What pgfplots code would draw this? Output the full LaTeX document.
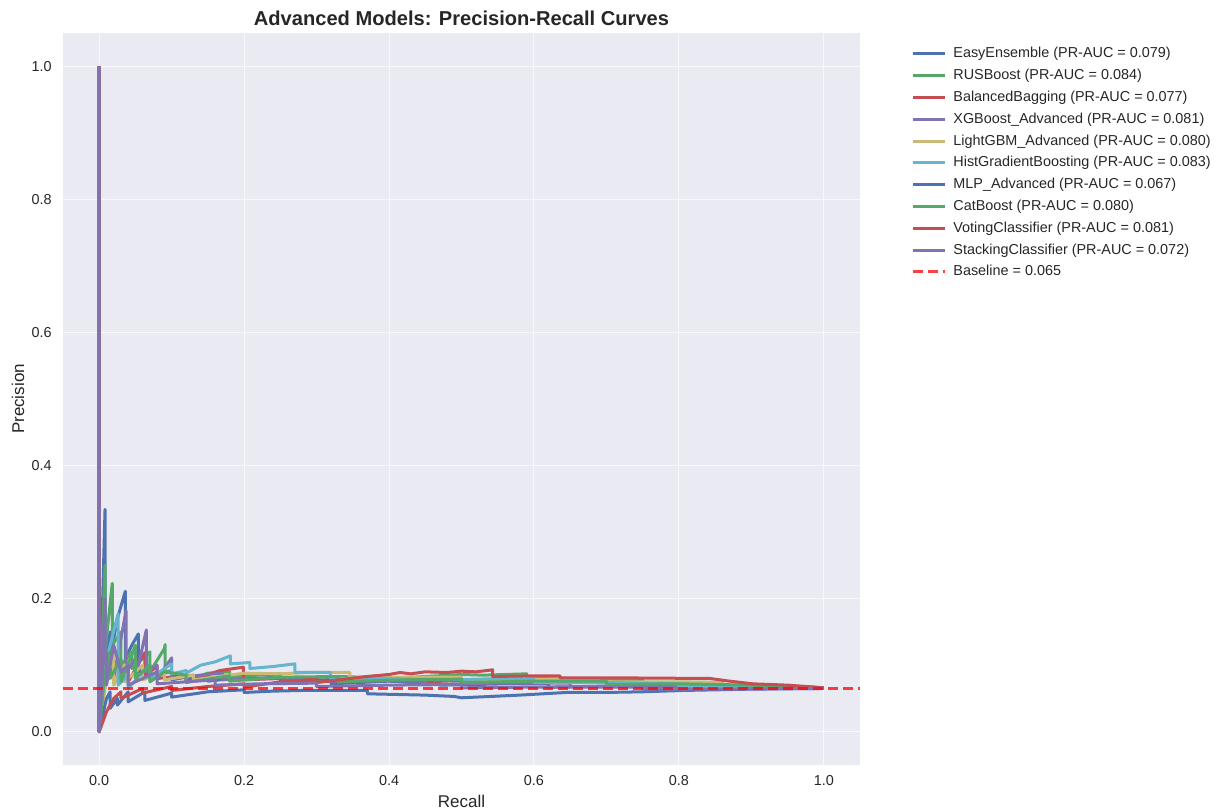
\documentclass[border=0pt]{standalone}
\usepackage{pgfplots}
\pgfplotsset{compat=1.18}
\usepackage{fontspec}
\setmainfont{Liberation Sans}
\definecolor{bgc}{HTML}{EAEAF2}
\definecolor{tc}{HTML}{262626}
\definecolor{c1}{HTML}{4C72B0}
\definecolor{c2}{HTML}{55A868}
\definecolor{c3}{HTML}{C44E52}
\definecolor{c4}{HTML}{8172B2}
\definecolor{c5}{HTML}{CCB974}
\definecolor{c6}{HTML}{64B5CD}
\begin{document}
\begin{tikzpicture}
\begin{axis}[
  name=ax, scale only axis, width=398.5pt, height=366pt,
  xmin=-0.05, xmax=1.05, ymin=-0.05, ymax=1.05,
  axis background/.style={fill=bgc},
  axis line style={draw=none},
  grid=major, major grid style={white!65!bgc, line width=0.5pt},
  tick style={draw=none},
  xtick={0,0.2,0.4,0.6,0.8,1.0}, ytick={0,0.2,0.4,0.6,0.8,1.0},
  /pgf/number format/assume math mode=true,
  /pgf/number format/fixed, /pgf/number format/fixed zerofill, /pgf/number format/precision=1,
  ticklabel style={font=\fontsize{7.2}{8}\selectfont, text=tc},
  xticklabel style={anchor=center, inner sep=0pt, yshift=-8pt},
  yticklabel style={anchor=east, inner sep=0pt, xshift=-5.5pt},
  xlabel={Recall}, ylabel={Precision},
  xlabel style={font=\fontsize{8.5}{10}\selectfont, text=tc, at={(axis description cs:0.5,0)}, anchor=center, yshift=-18pt},
  ylabel style={font=\fontsize{8.5}{10}\selectfont, text=tc, at={(axis description cs:0,0.5)}, anchor=center, yshift=22.5pt},
  title={Advanced Models: Precision-Recall Curves},
  title style={font=\bfseries\fontsize{10.05}{12}\selectfont, text=tc, at={(axis description cs:0.5,1)}, anchor=center, yshift=1.5pt},
  legend style={at={(1.064,0.9816)}, anchor=north west, draw=none, fill=none,
    font=\fontsize{7.2}{8}\selectfont, text=tc, row sep=3.9pt, column sep=1.5pt, inner sep=0pt,
    nodes={inner ysep=0pt, inner xsep=2pt, text height=5.5pt, text depth=1.5pt}},
  legend cell align=left,
  legend image code/.code={\draw[#1] (0pt,0pt) -- (16pt,0pt);},
  every axis plot/.append style={line width=1.5pt, line join=round},
]
% EasyEnsemble
\addplot[c1] coordinates {(0,1)(0,0)(0.008,0.334)(0.008,0.10)(0.015,0.15)(0.015,0.11)(0.025,0.17)(0.036,0.211)(0.036,0.11)(0.045,0.13)(0.054,0.147)(0.054,0.09)(0.07,0.10)(0.07,0.08)(0.09,0.088)(0.1,0.09)(0.1,0.078)(0.12,0.082)(0.12,0.077)(0.15,0.085)(0.15,0.076)(0.2,0.082)(0.22,0.080)(0.25,0.083)(0.25,0.076)(0.29,0.078)(0.29,0.075)(0.32,0.079)(0.32,0.072)(0.36,0.074)(0.4,0.076)(0.43,0.074)(0.47,0.075)(0.47,0.07)(0.52,0.071)(0.56,0.072)(0.62,0.072)(0.62,0.067)(0.72,0.069)(0.8,0.069)(0.8,0.066)(0.9,0.066)(1,0.065)};
\addlegendentry{EasyEnsemble (PR-AUC = 0.079)}
% RUSBoost
\addplot[c2] coordinates {(0,1)(0,0)(0.008,0.25)(0.008,0.12)(0.018,0.223)(0.018,0.13)(0.03,0.15)(0.03,0.10)(0.045,0.12)(0.045,0.095)(0.06,0.11)(0.07,0.12)(0.07,0.09)(0.09,0.125)(0.091,0.131)(0.091,0.09)(0.1,0.092)(0.1,0.082)(0.13,0.085)(0.13,0.081)(0.15,0.088)(0.18,0.09)(0.18,0.082)(0.22,0.085)(0.25,0.087)(0.25,0.08)(0.29,0.081)(0.33,0.083)(0.36,0.082)(0.4,0.085)(0.4,0.08)(0.45,0.083)(0.5,0.086)(0.53,0.085)(0.59,0.087)(0.59,0.08)(0.65,0.08)(0.7,0.079)(0.75,0.078)(0.75,0.074)(0.85,0.074)(0.85,0.07)(0.95,0.069)(1,0.066)};
\addlegendentry{RUSBoost (PR-AUC = 0.084)}
% BalancedBagging
\addplot[c3] coordinates {(0,1)(0,0)(0.005,0.06)(0.01,0.08)(0.026,0.107)(0.026,0.08)(0.04,0.10)(0.04,0.075)(0.063,0.119)(0.063,0.085)(0.08,0.098)(0.08,0.08)(0.12,0.085)(0.12,0.075)(0.167,0.092)(0.199,0.097)(0.199,0.078)(0.25,0.08)(0.3,0.08)(0.3,0.075)(0.34,0.077)(0.38,0.078)(0.45,0.079)(0.45,0.075)(0.5,0.077)(0.55,0.078)(0.62,0.076)(0.7,0.075)(0.7,0.072)(0.8,0.071)(0.85,0.069)(0.95,0.068)(1,0.066)};
\addlegendentry{BalancedBagging (PR-AUC = 0.077)}
% XGBoost_Advanced
\addplot[c4] coordinates {(0,1)(0,0)(0.008,0.2)(0.008,0.09)(0.02,0.13)(0.02,0.08)(0.037,0.182)(0.037,0.09)(0.05,0.11)(0.05,0.08)(0.065,0.153)(0.065,0.09)(0.08,0.1)(0.08,0.08)(0.1,0.111)(0.1,0.08)(0.14,0.085)(0.17,0.088)(0.17,0.078)(0.22,0.08)(0.25,0.081)(0.28,0.08)(0.28,0.074)(0.32,0.076)(0.36,0.077)(0.45,0.076)(0.45,0.071)(0.55,0.073)(0.65,0.073)(0.65,0.068)(0.75,0.068)(0.85,0.068)(0.85,0.065)(1,0.065)};
\addlegendentry{XGBoost\_Advanced (PR-AUC = 0.081)}
% LightGBM_Advanced
\addplot[c5] coordinates {(0,1)(0,0)(0.006,0.05)(0.012,0.09)(0.02,0.12)(0.02,0.07)(0.035,0.1)(0.035,0.075)(0.06,0.1)(0.06,0.078)(0.09,0.09)(0.09,0.078)(0.13,0.085)(0.13,0.078)(0.2,0.088)(0.25,0.087)(0.29,0.089)(0.346,0.089)(0.346,0.081)(0.42,0.082)(0.5,0.082)(0.5,0.078)(0.6,0.079)(0.69,0.08)(0.69,0.075)(0.8,0.075)(0.86,0.074)(0.86,0.069)(0.95,0.068)(1,0.066)};
\addlegendentry{LightGBM\_Advanced (PR-AUC = 0.080)}
% HistGradientBoosting
\addplot[c6] coordinates {(0,1)(0,0)(0.008,0.1)(0.015,0.13)(0.026,0.177)(0.026,0.07)(0.04,0.085)(0.04,0.065)(0.06,0.09)(0.07,0.1)(0.07,0.08)(0.1,0.102)(0.1,0.087)(0.12,0.092)(0.12,0.088)(0.14,0.1)(0.16,0.105)(0.181,0.114)(0.181,0.102)(0.208,0.104)(0.208,0.095)(0.24,0.098)(0.27,0.102)(0.27,0.089)(0.319,0.089)(0.319,0.08)(0.4,0.08)(0.48,0.078)(0.56,0.08)(0.6,0.079)(0.6,0.074)(0.7,0.074)(0.8,0.072)(0.8,0.068)(0.9,0.067)(1,0.065)};
\addlegendentry{HistGradientBoosting (PR-AUC = 0.083)}
% MLP_Advanced
\addplot[c1] coordinates {(0,1)(0,0)(0.01,0.05)(0.015,0.06)(0.015,0.035)(0.025,0.05)(0.025,0.04)(0.04,0.06)(0.04,0.045)(0.063,0.06)(0.063,0.047)(0.09,0.055)(0.1,0.058)(0.1,0.052)(0.15,0.06)(0.2,0.063)(0.2,0.059)(0.24,0.061)(0.28,0.062)(0.37,0.062)(0.37,0.057)(0.41,0.056)(0.45,0.055)(0.49,0.053)(0.5,0.051)(0.54,0.053)(0.58,0.055)(0.645,0.059)(0.7,0.059)(0.75,0.06)(0.806,0.062)(0.9,0.064)(1,0.065)};
\addlegendentry{MLP\_Advanced (PR-AUC = 0.067)}
% CatBoost
\addplot[c2] coordinates {(0,1)(0,0)(0.008,0.09)(0.015,0.12)(0.015,0.08)(0.03,0.11)(0.03,0.075)(0.05,0.13)(0.05,0.08)(0.07,0.1)(0.07,0.075)(0.09,0.09)(0.12,0.085)(0.12,0.074)(0.18,0.084)(0.18,0.076)(0.25,0.082)(0.33,0.083)(0.33,0.075)(0.42,0.078)(0.5,0.079)(0.5,0.074)(0.6,0.076)(0.7,0.076)(0.7,0.071)(0.8,0.072)(0.9,0.07)(0.95,0.068)(1,0.066)};
\addlegendentry{CatBoost (PR-AUC = 0.080)}
% VotingClassifier
\addplot[c3] coordinates {(0,1)(0,0)(0.01,0.03)(0.02,0.05)(0.03,0.06)(0.03,0.05)(0.06,0.065)(0.06,0.058)(0.1,0.068)(0.1,0.062)(0.15,0.068)(0.2,0.072)(0.2,0.067)(0.25,0.075)(0.3,0.078)(0.3,0.074)(0.37,0.083)(0.4,0.086)(0.415,0.089)(0.43,0.087)(0.45,0.09)(0.48,0.089)(0.5,0.091)(0.52,0.09)(0.543,0.093)(0.543,0.083)(0.6,0.084)(0.636,0.084)(0.636,0.081)(0.709,0.081)(0.843,0.08)(0.87,0.076)(0.902,0.072)(0.95,0.07)(1,0.066)};
\addlegendentry{VotingClassifier (PR-AUC = 0.081)}
% StackingClassifier
\addplot[c4] coordinates {(0,1)(0,0)(0.005,0.1)(0.01,0.12)(0.01,0.07)(0.02,0.13)(0.03,0.09)(0.04,0.1)(0.04,0.07)(0.06,0.08)(0.08,0.09)(0.08,0.072)(0.12,0.075)(0.16,0.078)(0.16,0.07)(0.22,0.072)(0.3,0.073)(0.3,0.068)(0.4,0.07)(0.5,0.071)(0.5,0.066)(0.6,0.067)(0.75,0.067)(0.75,0.064)(0.85,0.064)(1,0.065)};
\addlegendentry{StackingClassifier (PR-AUC = 0.072)}
% Baseline
\addplot[red, opacity=0.75, dash pattern=on 5pt off 2.5pt] coordinates {(-0.05,0.065)(1.05,0.065)};
\addlegendentry{Baseline = 0.065}
\end{axis}
\pgfresetboundingbox
\path (ax.south west) ++(-31.5pt,-22pt) rectangle ++(611pt,404.5pt);
\end{tikzpicture}
\end{document}
